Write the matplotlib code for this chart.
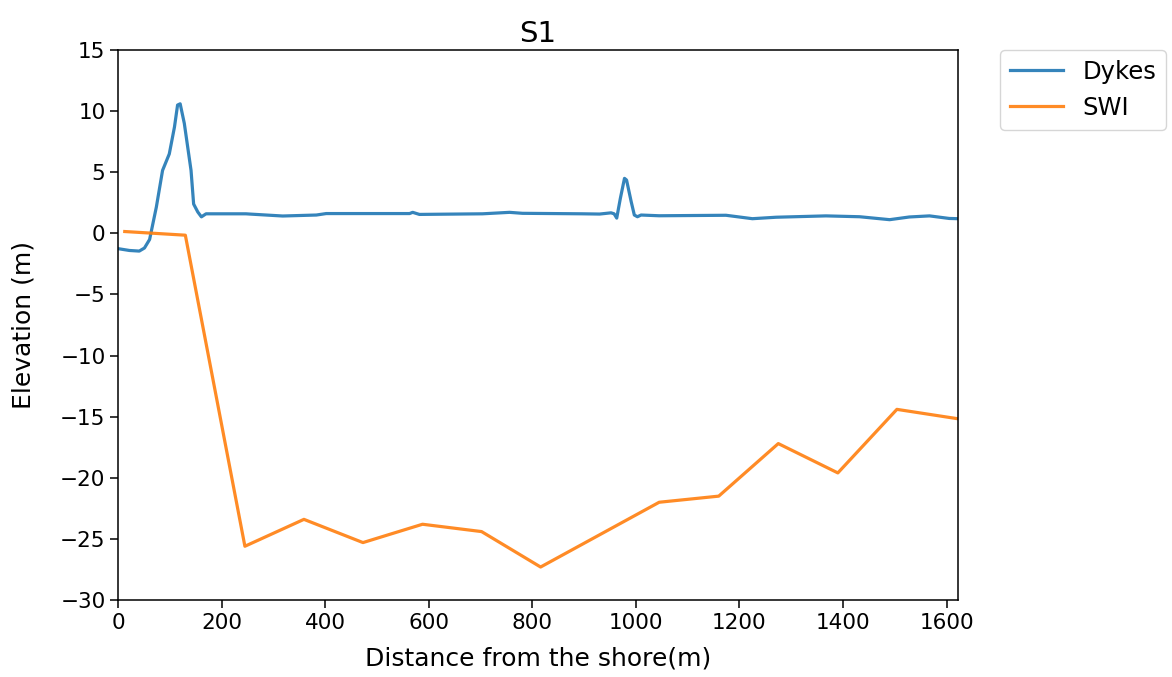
import matplotlib
matplotlib.use("Agg")
import matplotlib.pyplot as plt

# Dykes profile (distance m, elevation m)
dykes_x = [0, 22, 41, 51, 61, 74, 86, 99, 109, 115, 120, 128, 141, 146, 154, 161, 170,
           200, 247, 254, 318, 383, 402, 563, 569, 582, 704, 756, 781, 897, 930, 952,
           958, 963, 970, 978, 982, 991, 997, 1003, 1010, 1045, 1174, 1225, 1271,
           1367, 1432, 1490, 1528, 1567, 1605, 1622]
dykes_y = [-1.25, -1.4, -1.45, -1.2, -0.5, 2.15, 5.15, 6.5, 8.7, 10.5, 10.6, 9.0, 5.15,
           2.4, 1.75, 1.35, 1.6, 1.6, 1.6, 1.58, 1.42, 1.5, 1.62, 1.62, 1.72, 1.55, 1.6,
           1.72, 1.64, 1.6, 1.58, 1.68, 1.6, 1.25, 2.86, 4.5, 4.36, 2.58, 1.5, 1.36, 1.5,
           1.44, 1.48, 1.2, 1.32, 1.43, 1.36, 1.12, 1.34, 1.43, 1.22, 1.2]

# SWI interface (distance m, elevation m)
swi_x = [13, 130, 245, 359, 473, 588, 702, 816, 1045, 1160, 1275, 1390, 1504, 1619]
swi_y = [0.15, -0.15, -25.6, -23.4, -25.3, -23.8, -24.4, -27.3, -22.0, -21.5, -17.2,
         -19.6, -14.4, -15.15]

fig = plt.figure(figsize=(11.72, 6.77), dpi=100)
ax = fig.add_axes([0.1007, 0.1137, 0.7167, 0.8124])
ax.plot(dykes_x, dykes_y, color="#1f77b4", lw=2.3, alpha=0.9, label="Dykes")
ax.plot(swi_x, swi_y, color="#ff7f0e", lw=2.3, alpha=0.9, label="SWI")

ax.set_xlim(0, 1622)
ax.set_ylim(-30, 15)
ax.set_xticks(range(0, 1601, 200))
ax.set_yticks(range(-30, 16, 5))
ax.tick_params(labelsize=15.5, length=5.5, width=1.1)
for s in ax.spines.values():
    s.set_linewidth(1.1)
ax.set_xlabel("Distance from the shore(m)", fontsize=18, labelpad=10)
ax.set_ylabel("Elevation (m)", fontsize=18, labelpad=18)
ax.set_title("S1", fontsize=21, pad=6)
ax.legend(loc="upper left", bbox_to_anchor=(1.05, 1.0), fontsize=17.5,
          handlelength=2.2, borderaxespad=0.0)

fig.savefig("out.png", dpi=100)
